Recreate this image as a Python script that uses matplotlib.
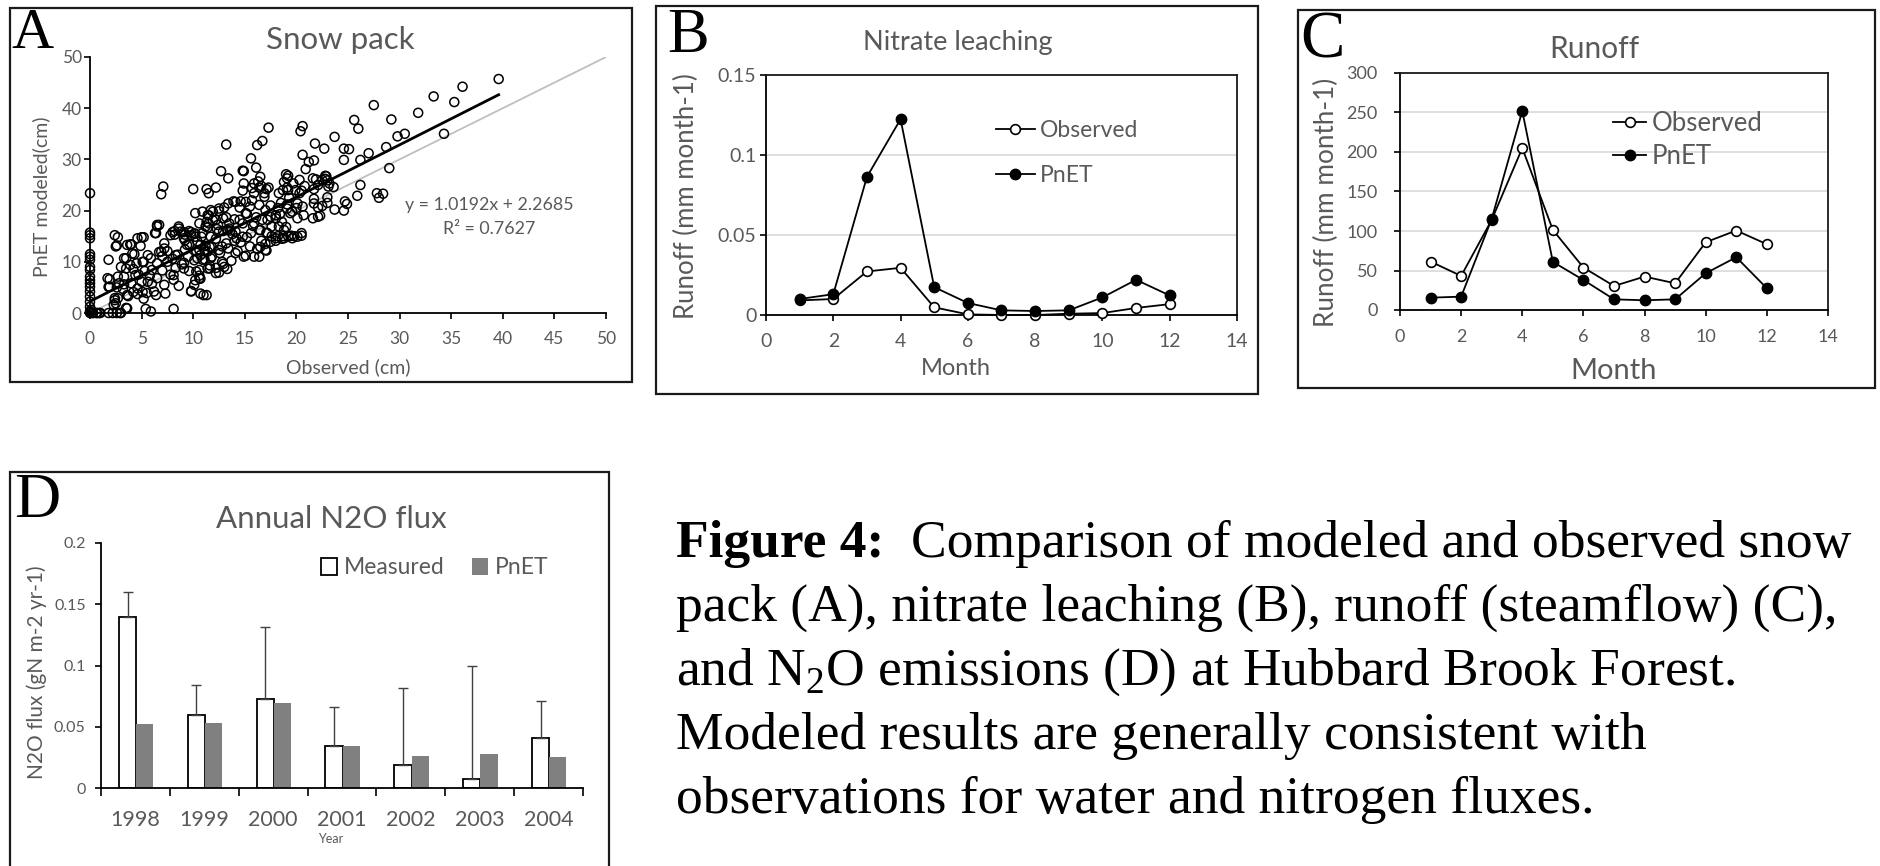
import numpy as np
import matplotlib
matplotlib.use("Agg")
import matplotlib.pyplot as plt
from matplotlib.patches import Rectangle, Patch

# ---- data ----
# A: snow pack, (observed cm, PnET modeled cm)
snow_points = [
    (39.6, 45.7), (36.1, 44.2), (33.3, 42.3), (35.3, 41.2), (27.5, 40.6), (31.8, 39.1), (29.2, 37.8),
    (25.6, 37.7), (26.0, 36.0), (30.5, 35.0), (29.8, 34.5), (34.3, 35.0), (23.7, 34.4), (20.6, 36.5),
    (20.4, 35.5), (17.3, 36.2), (13.2, 32.9), (16.2, 32.8), (16.7, 33.6), (15.6, 30.2), (16.1, 28.4),
    (14.8, 27.8), (12.7, 27.7), (13.4, 26.3), (21.8, 33.1), (22.7, 32.1), (21.7, 29.8), (21.2, 29.5),
    (20.6, 30.9), (24.6, 32.1), (25.1, 32.0), (28.7, 32.4), (27.0, 31.2), (26.2, 29.9), (29.0, 28.3),
    (20.9, 28.1), (24.6, 29.9), (22.9, 26.7), (22.8, 26.2), (21.9, 26.1), (22.1, 25.0), (23.1, 24.7),
    (22.5, 26.0), (20.3, 23.4), (21.7, 24.2), (16.3, 25.7), (16.4, 24.5), (17.3, 24.5), (17.1, 24.2),
    (18.7, 24.0), (19.0, 27.1), (18.8, 25.6), (19.1, 24.5), (26.2, 25.0), (25.9, 22.9), (27.8, 23.4),
    (28.4, 23.3), (28.0, 22.5), (24.7, 21.8), (24.9, 21.3), (24.6, 20.0), (23.7, 20.2), (23.0, 21.5),
    (23.0, 22.6), (21.7, 22.3), (21.7, 21.4), (21.6, 18.5), (22.3, 19.0), (22.1, 20.6), (20.0, 20.5),
    (19.1, 21.2), (19.3, 22.5), (18.5, 21.5), (18.2, 20.5), (20.5, 15.1), (20.5, 15.6), (19.8, 15.0),
    (19.2, 15.0), (18.7, 15.0), (18.2, 15.0), (17.6, 15.0), (19.0, 16.8), (18.6, 17.8), (17.2, 18.2),
    (17.0, 20.1), (17.5, 21.0), (16.9, 22.7), (15.7, 22.0), (15.5, 20.8), (14.6, 21.8), (14.5, 20.6),
    (13.9, 21.8), (13.0, 20.6), (11.9, 19.8), (11.5, 19.1), (11.3, 24.2), (11.5, 23.4), (12.2, 24.5),
    (10.0, 24.2), (7.1, 24.7), (6.9, 23.2), (6.5, 17.2), (6.3, 15.6), (2.4, 15.2), (2.7, 14.8),
    (5.0, 14.8), (5.2, 14.8), (4.9, 13.1), (3.9, 13.4), (2.6, 13.2), (8.6, 16.9), (8.2, 16.0),
    (8.2, 15.3), (9.6, 16.0), (9.2, 15.3), (10.2, 15.5), (10.8, 14.9), (11.4, 16.7), (11.9, 18.1),
    (12.4, 17.2), (12.9, 16.0), (13.5, 16.5), (13.8, 15.4), (14.2, 14.6), (14.6, 13.8), (15.2, 14.8),
    (15.5, 13.0), (15.1, 11.2), (14.3, 12.1), (13.7, 10.2), (13.3, 8.6), (12.9, 9.6), (12.5, 7.9),
    (12.2, 8.8), (11.6, 9.3), (11.1, 10.5), (11.3, 3.5), (10.7, 6.7), (10.6, 7.3), (9.8, 4.3),
    (9.6, 8.2), (9.1, 9.8), (8.3, 8.8), (8.0, 10.6), (8.6, 5.3), (7.3, 3.8), (8.1, 0.8), (6.4, 3.5),
    (5.9, 0.3), (5.4, 0.8), (5.2, 2.8), (5.5, 3.9), (5.1, 4.1), (4.6, 3.7), (4.2, 4.1), (3.7, 3.3),
    (3.5, 1.0), (2.9, 0.0), (2.6, 0.0), (1.8, 0.0), (0.9, 0.0), (0.6, 0.0), (0.3, 0.0), (2.4, 2.5),
    (2.5, 1.9), (2.4, 2.9), (1.9, 5.1), (1.9, 6.6), (2.6, 5.0), (3.2, 4.7), (3.0, 9.0), (3.3, 7.1),
    (3.5, 10.7), (4.0, 13.4), (4.3, 11.5), (4.5, 9.7), (4.2, 8.6), (4.7, 7.5), (5.0, 6.1), (5.1, 10.0),
    (5.6, 11.3), (6.0, 8.4), (6.0, 5.7), (6.5, 6.8), (6.5, 9.7), (7.0, 11.1), (7.0, 8.3), (7.5, 10.0),
    (7.5, 12.1), (7.8, 7.5), (8.1, 6.5), (8.5, 11.4), (8.9, 9.5), (9.2, 12.4), (9.6, 13.4), (10.3, 12.1),
    (10.1, 10.3), (10.3, 8.1), (10.4, 14.0), (11.2, 13.1), (11.8, 12.9), (12.2, 14.5), (12.8, 13.0),
    (12.6, 11.7), (13.4, 12.6), (14.0, 14.1), (9.5, 11.0), (10.7, 11.3), (11.1, 12.3), (10.1, 15.5),
    (9.2, 14.2), (7.2, 13.6), (6.7, 11.9), (5.3, 8.2), (5.8, 7.3), (4.0, 5.8), (3.3, 5.6), (16.1, 18.7),
    (15.8, 17.0), (16.5, 16.2), (17.1, 15.7), (17.6, 16.9), (18.0, 18.5), (18.4, 19.3), (19.4, 19.5),
    (14.0, 18.3), (13.2, 18.7), (12.3, 16.4), (12.5, 19.9), (13.6, 16.1), (14.8, 17.5), (15.2, 19.4),
    (16.6, 14.1), (17.0, 13.5), (16.2, 12.5), (16.4, 11.0), (17.1, 12.2), (17.5, 13.9), (18.0, 14.1),
    (18.6, 14.5), (19.5, 15.1), (14.9, 25.3), (14.8, 23.9), (15.7, 24.4), (15.9, 23.4), (16.5, 26.6),
    (15.9, 25.3), (16.6, 24.8), (16.9, 23.4), (19.1, 26.3), (19.7, 25.3), (20.3, 26.0), (20.8, 24.8),
    (19.9, 24.0), (20.5, 23.9), (18.3, 23.4), (19.2, 24.0), (10.2, 19.5), (10.9, 19.8), (11.7, 20.1),
    (12.5, 20.4), (13.4, 21.4), (14.1, 21.7), (15.1, 21.7), (16.4, 21.1), (18.0, 19.1), (19.1, 20.4),
    (19.6, 19.8), (10.6, 17.5), (11.3, 17.8), (12.2, 18.2), (12.9, 18.5), (13.5, 17.5), (14.5, 18.2),
    (15.1, 19.5), (15.9, 17.5), (16.7, 18.2), (17.5, 18.8), (18.3, 16.9), (18.8, 16.2), (20.1, 21.4),
    (20.6, 20.8), (20.1, 18.5), (20.7, 19.1), (10.2, 14.9), (10.9, 15.6), (11.7, 14.9), (12.5, 15.9),
    (13.3, 16.2), (14.1, 15.9), (14.8, 14.9), (15.6, 15.6), (16.4, 16.2), (17.2, 15.6), (18.0, 14.6),
    (18.8, 14.6), (19.6, 14.6), (20.1, 14.9), (10.6, 12.3), (11.6, 12.9), (12.5, 12.3), (13.2, 13.6),
    (14.1, 11.7), (14.9, 11.0), (15.9, 11.0), (16.5, 12.9), (17.0, 12.3), (10.9, 10.4), (11.8, 11.0),
    (12.8, 10.0), (10.6, 8.4), (11.6, 8.7), (12.2, 7.8), (13.0, 9.0), (10.2, 6.4), (10.7, 3.8),
    (0.0, 23.4), (0.0, 15.7), (0.0, 15.2), (0.0, 14.6), (0.0, 11.5), (0.0, 11.0), (0.0, 10.4),
    (0.0, 9.0), (0.0, 8.4), (0.0, 7.1), (0.0, 6.4), (0.0, 5.8), (0.0, 5.1), (0.0, 4.2), (0.0, 3.2),
    (0.0, 2.2), (0.0, 1.2), (0.0, 0.3), (0.0, 0.0), (0.1, 0.6), (0.2, 0.0),
    (2.5, 13.0), (1.8, 10.4), (1.7, 6.8), (2.7, 7.1), (3.5, 8.7), (4.1, 11.6), (3.6, 13.3), (4.6, 14.6),
    (6.4, 15.6), (6.5, 16.9), (6.9, 12.0), (7.2, 12.6), (8.3, 11.3), (7.8, 15.2), (8.8, 15.9),
    (9.1, 14.6), (9.4, 13.3), (9.8, 15.2), (10.7, 13.3), (11.4, 12.0), (10.4, 10.7), (9.1, 8.7),
    (8.1, 7.4), (7.2, 5.5), (6.2, 4.2), (5.6, 6.1), (4.6, 4.8), (3.6, 3.5), (2.7, 2.9), (2.3, 1.6),
    (2.2, 0.0), (3.0, 0.0), (3.6, 0.9), (9.8, 4.2), (11.0, 3.5), (10.6, 6.8), (10.1, 5.5), (11.4, 8.7),
    (11.7, 10.7), (1.8, 5.1), (2.8, 5.8), (0.7, 0.0), (1.0, 0.0), (5.2, 10.0), (5.9, 10.7), (4.4, 7.4),
    (3.9, 9.4), (3.3, 10.7), (8.0, 15.8), (8.6, 16.5), (9.1, 15.8), (9.8, 15.8), (6.7, 17.2),
    (11.4, 19.1), (11.5, 17.5), (11.2, 16.9), (14.9, 27.7), (19.2, 26.8), (21.6, 26.3), (22.8, 26.8),
    (23.0, 25.9), (23.6, 24.6), (23.2, 25.3), (22.1, 18.8), (22.5, 20.9),
]
trend_slope = 1.0192
trend_intercept = 2.2685
trend_r2 = 0.7627

months = list(range(1, 13))
# B: nitrate leaching
nitrate_obs = [0.0091, 0.0100, 0.0272, 0.0295, 0.0048, 0.0004, 0.0, 0.0, 0.0008, 0.0012, 0.0044, 0.0068]
nitrate_pnet = [0.0100, 0.0130, 0.0863, 0.1224, 0.0174, 0.0075, 0.0029, 0.0025, 0.0029, 0.0110, 0.0220, 0.0122]
# C: runoff
runoff_obs = [61.3, 43.1, 114.1, 205.0, 101.4, 53.7, 30.4, 42.3, 33.8, 85.8, 100.6, 83.3]
runoff_pnet = [15.6, 16.9, 115.4, 251.9, 60.9, 38.0, 13.5, 12.3, 13.5, 46.5, 66.8, 27.5]
# D: annual N2O flux
years = ["1998", "1999", "2000", "2001", "2002", "2003", "2004"]
n2o_measured = [0.140, 0.060, 0.073, 0.034, 0.019, 0.0075, 0.041]
n2o_measured_err = [0.020, 0.024, 0.0585, 0.032, 0.063, 0.092, 0.030]
n2o_pnet = [0.052, 0.053, 0.069, 0.034, 0.026, 0.028, 0.025]

caption_lines = [
    "Comparison of modeled and observed snow",
    "pack (A), nitrate leaching (B), runoff (steamflow) (C),",
    r"and N$_{\mathrm{2}}$O emissions (D) at Hubbard Brook Forest.",
    "Modeled results are generally consistent with",
    "observations for water and nitrogen fluxes.",
]

# ---- layout helpers (pixel coordinates, origin top-left) ----
W, H = 1881, 866
GRAY = "#595959"
plt.rcParams["font.family"] = ["Lato", "DejaVu Sans"]
plt.rcParams["mathtext.fontset"] = "custom"
plt.rcParams["mathtext.rm"] = "Liberation Serif"

fig = plt.figure(figsize=(W / 100, H / 100), dpi=100)
fig.patch.set_facecolor("white")


def px_axes(l, t, r, b):
    return fig.add_axes([l / W, 1 - b / H, (r - l) / W, (b - t) / H])


def px_text(x, y, s, **kw):
    return fig.text(x / W, 1 - y / H, s, **kw)


def frame(l, t, r, b):
    fig.add_artist(Rectangle((l / W, 1 - b / H), (r - l) / W, (b - t) / H,
                             transform=fig.transFigure, fill=False, lw=1.6, ec="#1a1a1a"))


def style(ax, size, xpad, ypad, box=False):
    for side in ["left", "bottom"]:
        ax.spines[side].set_color("black")
        ax.spines[side].set_linewidth(1.3)
    for side in ["top", "right"]:
        ax.spines[side].set_visible(box)
        ax.spines[side].set_color("#1a1a1a")
        ax.spines[side].set_linewidth(1.3)
    ax.tick_params(direction="out", length=4, width=1.2, color="black",
                   labelcolor=GRAY, labelsize=size)
    ax.tick_params(axis="x", pad=xpad)
    ax.tick_params(axis="y", pad=ypad)


def panel_letter(x, y, s, size):
    px_text(x, y, s, family="Liberation Serif", fontsize=size, va="baseline", ha="left")


# ---- A: snow pack ----
frame(10, 8, 632, 382)
panel_letter(11, 48, "A", 42)
px_text(340, 49, "Snow pack", fontsize=22.5, color=GRAY, ha="center", va="baseline")
axA = px_axes(90, 57, 606, 313)
obs, pnet = np.array(snow_points).T
axA.plot([0, 50], [0, 50], color="#bfbfbf", lw=1.3, zorder=1)
axA.scatter(obs, pnet, s=42, facecolors="none", edgecolors="black", linewidths=1.1, zorder=2,
            clip_on=False)
xs = np.array([0, obs.max()])
axA.plot(xs, trend_slope * xs + trend_intercept, color="black", lw=2, zorder=3)
axA.set_xlim(0, 50)
axA.set_ylim(0, 50)
axA.set_xticks(range(0, 51, 5))
axA.set_yticks(range(0, 51, 10))
style(axA, 12.5, 9, 2)
px_text(489, 210, f"y = {trend_slope}x + {trend_intercept}", fontsize=12.8, color=GRAY,
        ha="center", va="baseline")
px_text(489, 234, f"R² = {trend_r2}", fontsize=12.8, color=GRAY, ha="center", va="baseline")
px_text(348, 373, "Observed (cm)", fontsize=14, color=GRAY, ha="center", va="baseline")
px_text(41, 197, "PnET modeled(cm)", fontsize=14, color=GRAY, ha="center", va="center",
        rotation=90)


def line_panel(ax, obs_vals, pnet_vals):
    ax.plot(months, obs_vals, color="black", lw=1.3, marker="o", ms=7, mfc="white",
            mec="black", mew=1.2, label="Observed", zorder=3, clip_on=False)
    ax.plot(months, pnet_vals, color="black", lw=1.3, marker="o", ms=7.5, mfc="black",
            mec="black", label="PnET", zorder=3, clip_on=False)
    ax.set_xlim(0, 14)
    ax.set_xticks(range(0, 15, 2))
    ax.grid(axis="y", color="#d9d9d9", lw=1.2)
    ax.set_axisbelow(True)


# ---- B: nitrate leaching ----
frame(656, 6, 1258, 394)
panel_letter(667, 52, "B", 45)
px_text(958, 50, "Nitrate leaching", fontsize=19.5, color=GRAY, ha="center", va="baseline")
axB = px_axes(766, 75, 1237, 315)
line_panel(axB, nitrate_obs, nitrate_pnet)
axB.set_ylim(0, 0.15)
axB.set_yticks([0, 0.05, 0.1, 0.15])
axB.set_yticklabels(["0", "0.05", "0.1", "0.15"])
style(axB, 14, 9, 3, box=True)
axB.legend(loc="center left", bbox_to_anchor=(996 / W, 1 - 153 / H), bbox_transform=fig.transFigure,
           frameon=False, fontsize=16.5, labelcolor=GRAY, handlelength=1.7, handletextpad=0.2,
           labelspacing=1.05, borderpad=0, borderaxespad=0)
px_text(956, 375, "Month", fontsize=17, color=GRAY, ha="center", va="baseline")
px_text(686, 196, "Runoff (mm month-1)", fontsize=18.5, color=GRAY, ha="center", va="center",
        rotation=90)

# ---- C: runoff ----
frame(1298, 10, 1875, 388)
panel_letter(1300, 58, "C", 48)
px_text(1594, 58, "Runoff", fontsize=21.5, color=GRAY, ha="center", va="baseline")
axC = px_axes(1400, 73, 1828, 310)
line_panel(axC, runoff_obs, runoff_pnet)
axC.set_ylim(0, 300)
axC.set_yticks(range(0, 301, 50))
style(axC, 13, 10, 12, box=True)
axC.legend(loc="center left", bbox_to_anchor=(1613 / W, 1 - 140 / H), bbox_transform=fig.transFigure,
           frameon=False, fontsize=18.5, labelcolor=GRAY, handlelength=1.3, handletextpad=0.2,
           labelspacing=0.3, borderpad=0, borderaxespad=0)
px_text(1614, 379, "Month", fontsize=21, color=GRAY, ha="center", va="baseline")
px_text(1326, 202, "Runoff (mm month-1)", fontsize=18.8, color=GRAY, ha="center", va="center",
        rotation=90)

# ---- D: annual N2O flux ----
frame(10, 472, 609, 880)
panel_letter(14, 517, "D", 46)
px_text(331, 528, "Annual N2O flux", fontsize=22.5, color=GRAY, ha="center", va="baseline")
axD = px_axes(101, 543, 583, 788)
idx = np.arange(len(years))
axD.bar(idx + 0.385, n2o_measured, width=0.25, color="white", edgecolor="black", lw=1.3,
        label="Measured", zorder=2)
axD.bar(idx + 0.635, n2o_pnet, width=0.25, color="#808080", edgecolor="none", label="PnET", zorder=2)
axD.errorbar(idx + 0.385, n2o_measured, yerr=[np.zeros(len(years)), n2o_measured_err], fmt="none",
             ecolor="#404040", elinewidth=1, capsize=3.5, capthick=1, zorder=3)
axD.set_xlim(0, len(years))
axD.set_ylim(0, 0.2)
axD.set_yticks([0, 0.05, 0.1, 0.15, 0.2])
axD.set_yticklabels(["0", "0.05", "0.1", "0.15", "0.2"])
axD.set_xticks(np.arange(len(years) + 1))
axD.set_xticklabels([])
axD.set_xticks(idx + 0.5, minor=True)
axD.set_xticklabels(years, minor=True)
style(axD, 11.5, 11, 7)
axD.tick_params(axis="x", which="major", length=6)
axD.tick_params(axis="x", which="minor", length=0, labelsize=15.5, labelcolor=GRAY, pad=16)
axD.legend(handles=[Patch(fc="white", ec="black", lw=1.3), Patch(fc="#808080")],
           labels=["Measured", "PnET"], ncol=2, loc="center left",
           bbox_to_anchor=(321 / W, 1 - 568 / H), bbox_transform=fig.transFigure,
           frameon=False, fontsize=16.5, labelcolor=GRAY, handlelength=0.7, handleheight=0.7,
           handletextpad=0.3, columnspacing=1.2, borderpad=0, borderaxespad=0)
px_text(331, 843, "Year", fontsize=9, color=GRAY, ha="center", va="baseline")
px_text(37, 672, "N2O flux (gN m-2 yr-1)", fontsize=15, color=GRAY, ha="center", va="center",
        rotation=90)

# ---- caption ----
base = 557
step = 64
cap_kw = dict(family="Liberation Serif", fontsize=38.5, color="black", va="baseline", ha="left")
px_text(676, base, "Figure 4:", fontweight="bold", **cap_kw)
px_text(911, base, caption_lines[0], **cap_kw)
for i, line in enumerate(caption_lines[1:], start=1):
    px_text(676, base + i * step, line, **cap_kw)

fig.savefig("out.png", dpi=100, facecolor="white")
